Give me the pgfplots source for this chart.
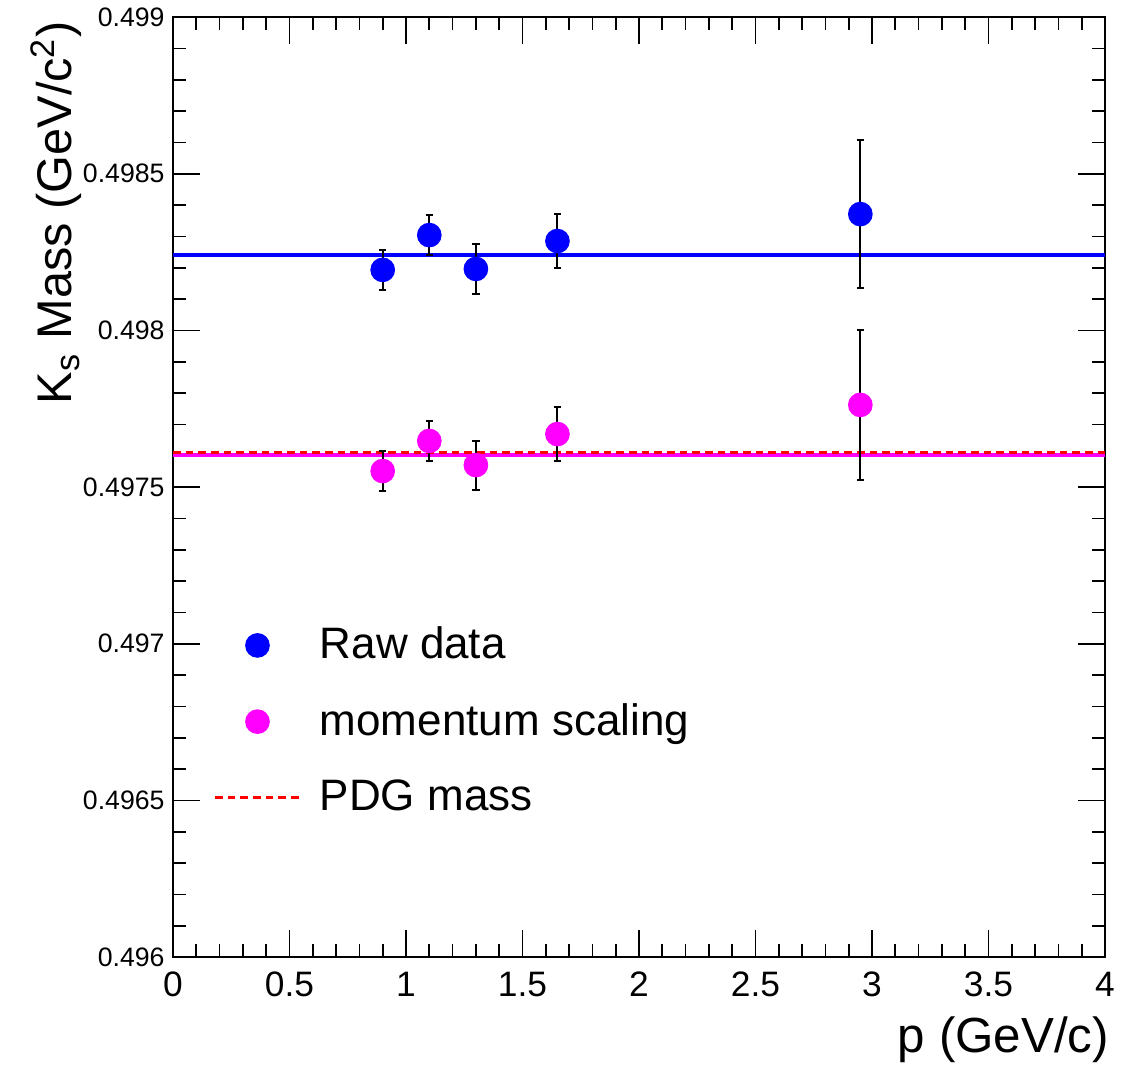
\documentclass[border=0pt]{standalone}
\usepackage{fontspec}
\setmainfont{Liberation Sans}
\usepackage{pgfplots}
\pgfplotsset{compat=1.18}
\definecolor{rblue}{RGB}{0,0,255}
\definecolor{rmag}{RGB}{255,0,255}
\definecolor{rred}{RGB}{255,0,0}
\begin{document}
\begin{tikzpicture}
\path[use as bounding box] (-51.9pt,-32.1pt) rectangle (287.7pt,287.1pt);
\begin{axis}[
  at={(0pt,0pt)}, anchor=south west,
  scale only axis, width=279.6pt, height=282pt,
  xmin=0, xmax=4, ymin=0.496, ymax=0.499,
  xtick={0,0.5,1,1.5,2,2.5,3,3.5,4},
  xticklabels={0,0.5,1,1.5,2,2.5,3,3.5,4},
  ytick={0.496,0.4965,0.497,0.4975,0.498,0.4985,0.499},
  yticklabels={0.496,0.4965,0.497,0.4975,0.498,0.4985,0.499},
  minor x tick num=4, minor y tick num=4,
  tick align=inside, tick pos=both,
  major tick length=8pt, minor tick length=4pt,
  every tick/.style={black, line width=0.5pt},
  axis line style={line width=0.6pt},
  xticklabel style={font=\fontsize{10.6}{11}\selectfont, yshift=-1pt},
  yticklabel style={font=\fontsize{8}{9}\selectfont, xshift=1pt},
  xlabel={p (GeV/c)},
  xlabel style={font=\fontsize{14.8}{16}\selectfont, at={(axis description cs:1.017,-0.102)}, anchor=base east},
  ylabel={K\textsubscript{s} Mass (GeV/c\textsuperscript{2})},
  ylabel style={font=\fontsize{14.6}{16}\selectfont, at={(axis description cs:-0.1085,1.008)}, anchor=base east, rotate=0},
  legend style={draw=none, fill=none, at={(axis description cs:0.032,0.366)}, anchor=north west,
    font=\fontsize{13.2}{15}\selectfont, row sep=7.8pt,
    /tikz/every odd column/.append style={column sep=3.5pt}},
  legend cell align=left,
  legend image code/.code={\draw[mark repeat=2,mark phase=2,#1] plot coordinates {(0pt,0pt)(12.75pt,0pt)(25.5pt,0pt)};},
]
% fit lines
\addplot[rblue, line width=1.2pt, forget plot] coordinates {(0,0.49824) (4,0.49824)};
\addplot[rmag, line width=1.2pt, forget plot] coordinates {(0,0.497602) (4,0.497602)};
\addplot[rred, line width=0.9pt, dash pattern=on 2.3pt off 1.5pt, forget plot] coordinates {(0,0.497611) (4,0.497611)};
% raw data
\addplot[only marks, mark=*, mark size=3.5pt, color=rblue, forget plot,
  error bars/.cd, y dir=both, y explicit,
  error bar style={black, line width=0.6pt},
  error mark=-,
  error mark options={black, line width=0.6pt, mark size=1.1pt, rotate=90}]
  coordinates {
  (0.9,0.498193) +- (0,0.000064)
  (1.1,0.498304) +- (0,0.000065)
  (1.3,0.498196) +- (0,0.000080)
  (1.65,0.498285) +- (0,0.000086)
  (2.95,0.498371) +- (0,0.000235)
  };
% momentum scaling
\addplot[only marks, mark=*, mark size=3.5pt, color=rmag, forget plot,
  error bars/.cd, y dir=both, y explicit,
  error bar style={black, line width=0.6pt},
  error mark=-,
  error mark options={black, line width=0.6pt, mark size=1.1pt, rotate=90}]
  coordinates {
  (0.9,0.497551) +- (0,0.000064)
  (1.1,0.497647) +- (0,0.000065)
  (1.3,0.497570) +- (0,0.000078)
  (1.65,0.497669) +- (0,0.000086)
  (2.95,0.497762) +- (0,0.000240)
  };
\addlegendimage{only marks, mark=*, mark size=3.5pt, rblue}
\addlegendentry{Raw data}
\addlegendimage{only marks, mark=*, mark size=3.5pt, rmag}
\addlegendentry{momentum scaling}
\addlegendimage{rred, line width=0.9pt, dash pattern=on 2.3pt off 1.5pt}
\addlegendentry{PDG mass}
\end{axis}
\end{tikzpicture}
\end{document}
